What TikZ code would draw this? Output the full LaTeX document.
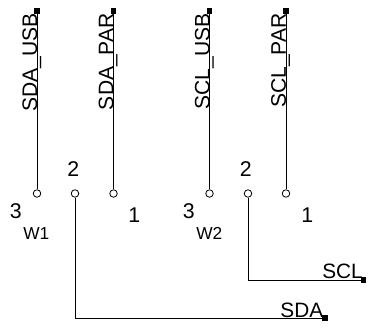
\documentclass[tikz,border=0pt]{standalone}
\usepackage{fontspec}
\setmainfont{Liberation Sans}
\begin{document}
\begin{tikzpicture}[x=0.75pt,y=-0.75pt,
        pin/.style={draw=black,fill=white,circle,inner sep=0pt,minimum size=7.5pt*0.75,line width=0.6pt},
        term/.style={fill=black,inner sep=0pt,minimum size=3.8pt},
        wire/.style={draw=black,line width=0.7pt},
        netv/.style={rotate=90,anchor=base east,inner sep=0pt,font=\fontsize{15.8}{17}\selectfont},
        neth/.style={anchor=base east,inner sep=0pt,font=\fontsize{15.6}{17}\selectfont},
        num/.style={anchor=base west,inner sep=0pt,font=\fontsize{16}{18}\selectfont},
        ref/.style={anchor=base west,inner sep=0pt,font=\fontsize{13}{15}\selectfont}]
        \useasboundingbox (0,0) rectangle (376,328);
        \def\ytop{11};
        \def\ypin{193.5};
        % jumper W1
        \node[pin] (p3a) at (37,\ypin) {};
        \node[pin] (p2a) at (75,\ypin) {};
        \node[pin] (p1a) at (113.5,\ypin) {};
        % jumper W2
        \node[pin] (p3b) at (209.5,\ypin) {};
        \node[pin] (p2b) at (248,\ypin) {};
        \node[pin] (p1b) at (286,\ypin) {};
        \node[term] (usba) at (37,\ytop) {};
        \node[term] (para) at (113.5,\ytop) {};
        \node[term] (usbb) at (209.5,\ytop) {};
        \node[term] (parb) at (286,\ytop) {};
        \node[term] (sda) at (325,318) {};
        \node[term] (scl) at (363.5,280) {};

        \draw[wire] (usba) -- (p3a);
        \draw[wire] (para) -- (p1a);
        \draw[wire] (usbb) -- (p3b);
        \draw[wire] (parb) -- (p1b);
        \draw[wire] (p2a) |- (sda);
        \draw[wire] (p2b) |- (scl);

        \node[netv] (lusba) at (37,13) {SDA\textunderscore USB};
        \node[netv] (lpara) at (113.5,13) {SDA\textunderscore PAR};
        \node[netv] (lusbb) at (209.5,13) {SCL\textunderscore USB};
        \node[netv] (lparb) at (286,13) {SCL\textunderscore PAR};
        \node[neth] (lsda) at (323.5,318) {SDA};
        \node[neth] (lscl) at (363,279) {SCL};

        \node[num] (n3a) at (9.5,219) {3};
        \node[num] (n2a) at (67,177) {2};
        \node[num] (n1a) at (128,223) {1};
        \node[ref] (wa) at (23,240) {W1};
        \node[num] (n3b) at (182.5,219) {3};
        \node[num] (n2b) at (239.5,177) {2};
        \node[num] (n1b) at (301,223) {1};
        \node[ref] (wb) at (196,240) {W2};
\end{tikzpicture}
\end{document}
